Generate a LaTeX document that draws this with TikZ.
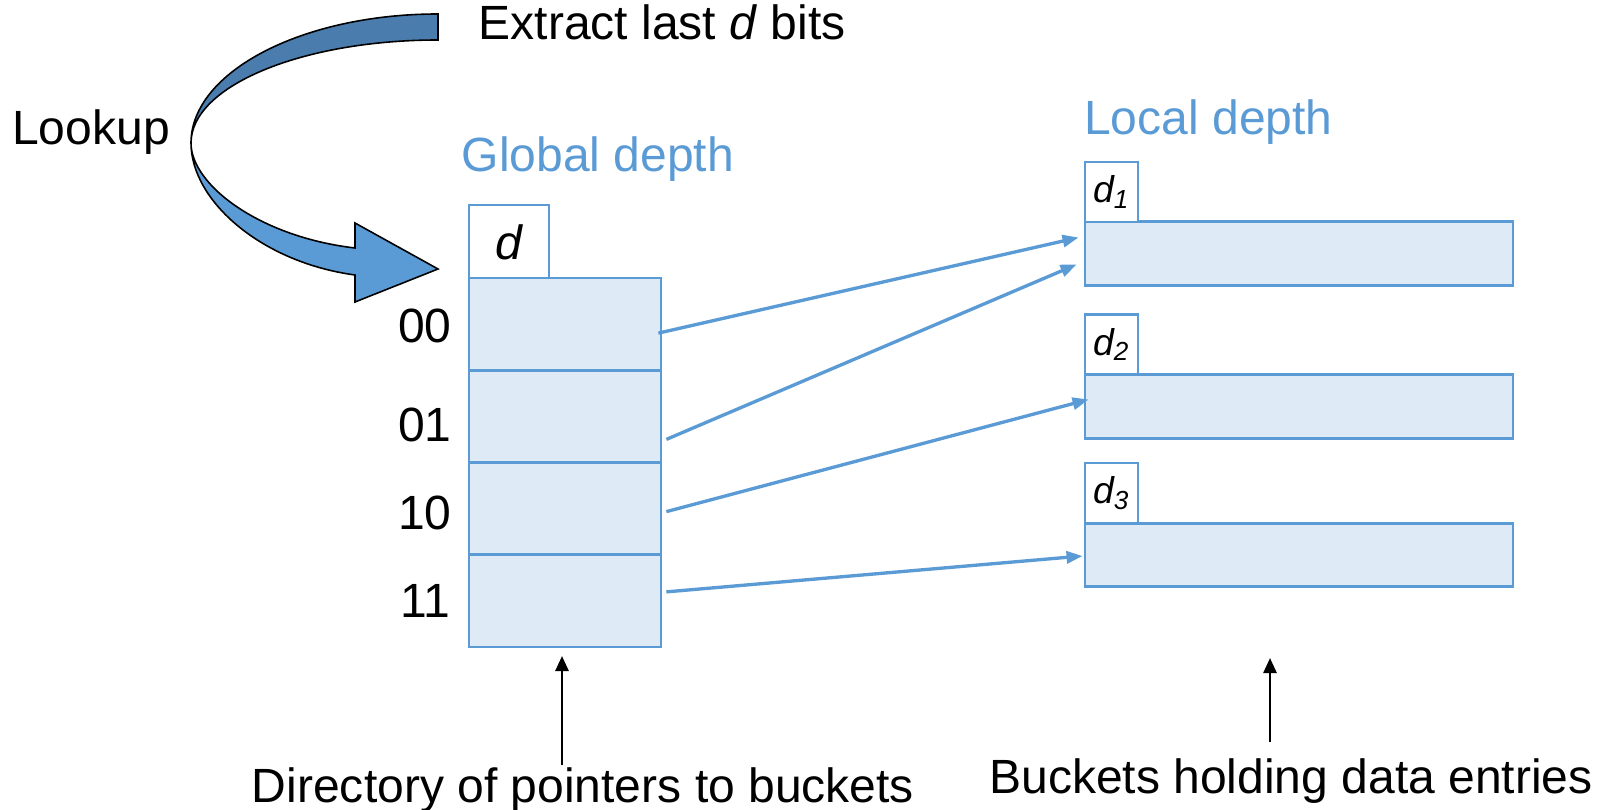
\documentclass[tikz,border=0pt]{standalone}
\usepackage{fontspec}
\setmainfont{Liberation Sans}
\usepackage{xcolor}
\usetikzlibrary{arrows.meta,positioning,calc}

\definecolor{accent}{HTML}{5B9BD5}
\definecolor{accentlt}{HTML}{DEEBF7}
\definecolor{accentdk}{HTML}{4A7DAE}

\begin{document}
\begin{tikzpicture}[
    x=0.01cm, y=-0.01cm,
    every node/.style={font=\fontsize{13.66}{16}\selectfont},
    txt/.style     ={inner sep=0pt},
    cell/.style    ={draw=accent,line width=0.75pt,fill=accentlt,inner sep=0pt,
                     minimum width=1.92cm,minimum height=0.9225cm},
    bucket/.style  ={draw=accent,line width=0.75pt,fill=accentlt,inner sep=0pt,
                     minimum width=4.28cm,minimum height=0.635cm},
    depthbox/.style={draw=accent,line width=0.75pt,fill=white,inner sep=0pt},
    ptr/.style     ={accent,line width=0.95pt,-{Triangle[length=0.16cm,width=0.12cm]}},
    uparr/.style   ={black,line width=0.75pt,-{Triangle[length=0.15cm,width=0.13cm]}},
  ]
  \useasboundingbox (0,0) rectangle (1610,810);

  % curved lookup arrow (twisted band)
  \filldraw[fill=accentdk,draw=black,line width=0.45pt]
    (438,14) .. controls (302,14) and (191,72) .. (191,143)
    .. controls (191,86) and (302,40) .. (438,40) -- cycle;
  \filldraw[fill=accent,draw=black,line width=0.45pt]
    (191,143) .. controls (191,200) and (260,262) .. (355,275)
    -- (355,302) -- (438,269) -- (355,223) -- (355,248)
    .. controls (260,237) and (191,185) .. (191,143) -- cycle;

  % labels at the top
  \node[txt,anchor=base west] (extract) at (478,40) {Extract last \textit{d} bits};
  \node[txt,anchor=base west] (lookup) at (11.5,145) {Lookup};
  \node[txt,anchor=base west,text=accent] (gdlbl) at (461,172) {Global depth};
  \node[txt,anchor=base west,text=accent] (ldlbl) at (1083.5,135) {Local depth};

  % directory
  \node[depthbox,minimum width=0.8cm,minimum height=0.74cm] (gd) at (509,242) {\itshape d};
  \foreach \lab/\yb [count=\i from 0] in {00/343,01/442,10/530,11/617} {
     \node[cell] (r\lab) at (565,{324.125+92.25*\i}) {};
     \node[txt,anchor=base] (n\lab) at (425,\yb) {\lab};
  }

  % buckets with local depth
  \foreach \k/\yb/\yd in {1/253.5/192,2/406.5/344.5,3/555/493} {
     \node[bucket] (b\k) at (1299,\yb) {};
     \node[depthbox,minimum width=0.53cm,minimum height=0.6cm,
           font=\fontsize{10.6}{12}\selectfont] (ld\k) at (1111.5,\yd) {\itshape d\textsubscript{\k}};
  }

  % pointers
  \draw[ptr] ($(r00.east)+(-4,9)$)  -- ($(b1.west)+(-5,-16)$);
  \draw[ptr] ($(r01.east)+(4,23)$)  -- ($(b1.west)+(-7,11)$);
  \draw[ptr] ($(r10.east)+(4,3)$)   -- ($(b2.west)+(5,-7)$);
  \draw[ptr] ($(r11.east)+(4,-9)$)  -- ($(b3.west)+(-1,1)$);

  % captions
  \node[txt,anchor=base] (dirlbl) at (583,802) {Directory of pointers to buckets};
  \node[txt,anchor=base] (bktlbl) at (1291,793) {Buckets holding data entries};
  \coordinate (dirfoot) at (562,765);
  \coordinate (dirtip)  at (562,656);
  \coordinate (bktfoot) at (1270,742);
  \coordinate (bkttip)  at (1270,658);
  \draw[uparr] (dirfoot) -- (dirtip);
  \draw[uparr] (bktfoot) -- (bkttip);
\end{tikzpicture}
\end{document}
